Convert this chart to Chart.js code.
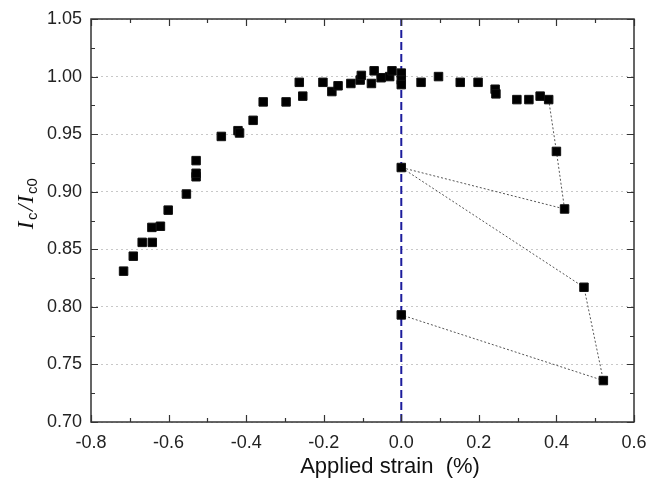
<!DOCTYPE html>
<html>
<head>
<meta charset="utf-8">
<script src="https://cdn.jsdelivr.net/npm/chart.js@4"></script>
<style>
  html, body { margin: 0; padding: 0; background: #fff; }
  #wrap { width: 649px; height: 486px; position: relative; }
</style>
</head>
<body>
<div id="wrap"><canvas id="chart0"></canvas></div>
<script>
// data
const strain = [
  -0.716, -0.691, -0.668, -0.642, -0.643, -0.621, -0.601, -0.554, -0.529, -0.529,
  -0.529, -0.464, -0.421, -0.417, -0.382, -0.356, -0.297, -0.263, -0.254, -0.202,
  -0.179, -0.163, -0.130, -0.106, -0.103, -0.077, -0.070, -0.052, -0.030, -0.024,
  0.000, 0.000, 0.000, 0.051, 0.096, 0.152, 0.198, 0.242, 0.244, 0.298,
  0.329, 0.358, 0.380, 0.400, 0.421, 0.000, 0.471, 0.521, 0.000
];
const icRatio = [
  0.831, 0.844, 0.856, 0.856, 0.869, 0.870, 0.884, 0.898, 0.913, 0.916,
  0.927, 0.948, 0.953, 0.951, 0.962, 0.978, 0.978, 0.995, 0.983, 0.995,
  0.987, 0.992, 0.994, 0.997, 1.001, 0.994, 1.005, 0.999, 1.000, 1.005,
  1.003, 0.997, 0.993, 0.995, 1.000, 0.995, 0.995, 0.989, 0.985, 0.980,
  0.980, 0.983, 0.980, 0.935, 0.885, 0.921, 0.817, 0.736, 0.793
];

// dotted path of the unloading part
const pathStrain = [0.380, 0.400, 0.421, 0.000, 0.471, 0.521, 0.000];
const pathIc = [0.980, 0.935, 0.885, 0.921, 0.817, 0.736, 0.793];

// blue dashed zero-strain line
const zeroStrain = [0, 0];
const zeroIc = [0.70, 1.05];

const xTicks = [-0.8, -0.6, -0.4, -0.2, 0.0, 0.2, 0.4, 0.6];
const yTicks = [0.70, 0.75, 0.80, 0.85, 0.90, 0.95, 1.00, 1.05];

const toPoints = (xs, ys) => xs.map((x, i) => ({ x: x, y: ys[i] }));

// frame with inward ticks on all four sides + axis titles
const framePlugin = {
  id: 'frame',
  afterDraw(chart) {
    const { ctx, chartArea: a, scales: { x, y } } = chart;
    ctx.save();
    ctx.strokeStyle = '#333';
    ctx.lineWidth = 1.5;
    ctx.strokeRect(a.left, a.top, a.right - a.left, a.bottom - a.top);

    ctx.lineWidth = 1.2;
    ctx.beginPath();
    const tickX = (v, len) => {
      const p = Math.round(x.getPixelForValue(v)) + 0.5;
      ctx.moveTo(p, a.bottom); ctx.lineTo(p, a.bottom - len);
      ctx.moveTo(p, a.top); ctx.lineTo(p, a.top + len);
    };
    const tickY = (v, len) => {
      const p = Math.round(y.getPixelForValue(v)) + 0.5;
      ctx.moveTo(a.left, p); ctx.lineTo(a.left + len, p);
      ctx.moveTo(a.right, p); ctx.lineTo(a.right - len, p);
    };
    xTicks.forEach((v, i) => {
      tickX(v, 7);
      if (i < xTicks.length - 1) tickX((v + xTicks[i + 1]) / 2, 4);
    });
    yTicks.forEach((v, i) => {
      tickY(v, 7);
      if (i < yTicks.length - 1) tickY((v + yTicks[i + 1]) / 2, 4);
    });
    ctx.stroke();

    // x title
    ctx.fillStyle = '#111';
    ctx.font = '22px "Liberation Sans", Arial, sans-serif';
    ctx.textAlign = 'center';
    ctx.textBaseline = 'middle';
    ctx.fillText('Applied strain  (%)', 390, 467);

    // y title: I_c / I_c0
    const parts = [
      { t: 'I', f: 'italic 23px "Liberation Serif", serif', dy: 0 },
      { t: 'c', f: '15px "Liberation Sans", sans-serif', dy: 6 },
      { t: '/', f: 'italic 23px "Liberation Serif", serif', dy: 0 },
      { t: 'I', f: 'italic 23px "Liberation Serif", serif', dy: 0 },
      { t: 'c0', f: '15px "Liberation Sans", sans-serif', dy: 6 }
    ];
    let total = 0;
    parts.forEach(p => { ctx.font = p.f; p.w = ctx.measureText(p.t).width + 1.5; total += p.w; });
    ctx.translate(27, 203);
    ctx.rotate(-Math.PI / 2);
    ctx.textAlign = 'left';
    let cx = -total / 2;
    parts.forEach(p => { ctx.font = p.f; ctx.fillText(p.t, cx, p.dy); cx += p.w; });
    ctx.restore();
  }
};

const ctx = document.getElementById('chart0').getContext('2d');

new Chart(ctx, {
  data: {
    datasets: [
      {
        type: 'scatter',
        data: toPoints(strain, icRatio),
        pointStyle: 'rect',
        pointRadius: 6,
        backgroundColor: '#000',
        borderColor: '#111',
        borderWidth: 1,
        order: 0
      },
      {
        type: 'line',
        data: toPoints(pathStrain, pathIc),
        borderColor: '#555',
        borderWidth: 1,
        borderDash: [2, 2],
        pointRadius: 0,
        fill: false,
        order: 2
      },
      {
        type: 'line',
        data: toPoints(zeroStrain, zeroIc),
        borderColor: '#1c1c9c',
        borderWidth: 2,
        borderDash: [8, 4],
        pointRadius: 0,
        fill: false,
        order: 1
      }
    ]
  },
  options: {
    responsive: true,
    maintainAspectRatio: false,
    animation: false,
    layout: { padding: { top: 19, right: 15, left: 0, bottom: 0 } },
    plugins: {
      legend: { display: false },
      tooltip: { enabled: false }
    },
    scales: {
      x: {
        type: 'linear',
        min: -0.8,
        max: 0.6,
        afterBuildTicks: s => { s.ticks = xTicks.map(v => ({ value: v })); },
        afterFit: s => { s.height = 64; s.paddingLeft = 0; s.paddingRight = 0; },
        ticks: {
          callback: v => v.toFixed(1),
          font: { size: 18, family: '"Liberation Sans", Arial, sans-serif' },
          color: '#222',
          padding: 2,
          maxRotation: 0,
          autoSkip: false
        },
        grid: { display: false },
        border: { display: false }
      },
      y: {
        type: 'linear',
        min: 0.70,
        max: 1.05,
        afterBuildTicks: s => { s.ticks = yTicks.map(v => ({ value: v })); },
        afterFit: s => { s.width = 91; s.paddingTop = 0; s.paddingBottom = 0; },
        ticks: {
          callback: v => v.toFixed(2),
          font: { size: 18, family: '"Liberation Sans", Arial, sans-serif' },
          color: '#222',
          padding: 9,
          autoSkip: false
        },
        grid: { color: '#c8c8c8', lineWidth: 1, drawTicks: false },
        border: { display: false, dash: [2, 3] }
      }
    }
  },
  plugins: [framePlugin]
});
</script>
</body>
</html>
